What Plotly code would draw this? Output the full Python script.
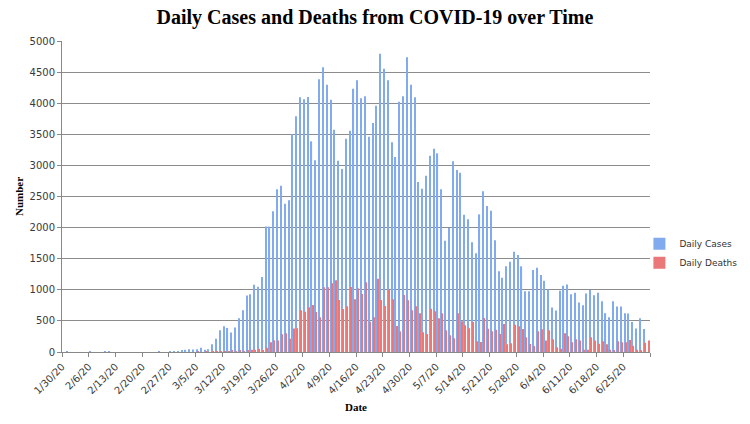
import pandas as pd
import plotly.graph_objects as go

start_date = "2020-01-30"
end_date = "2020-07-01"

cases_jan_feb = [0, 2, 0, 0, 0, 0, 0, 1, 0, 0, 0, 4, 1, 0, 0, 0, 0, 0, 0, 0, 0,
                 0, 0, 0, 0, 4, 0, 0, 6, 3, 4]
cases_mar = [20, 35, 45, 40, 45, 70, 38, 45, 124, 215, 350, 414, 387, 312, 392,
             543, 672, 908, 930, 1080, 1048, 1204, 2016, 2016, 2263, 2618, 2672,
             2382, 2441, 3500, 3789]
cases_apr = [4094, 4062, 4100, 3387, 3081, 4384, 4577, 4298, 4057, 3574, 3076,
             2942, 3430, 3558, 4234, 4368, 4078, 4110, 3462, 3682, 3960, 4796,
             4555, 4368, 3371, 3135, 4025, 4110, 4737, 4298]
cases_may = [4094, 2733, 2626, 2835, 3156, 3269, 3194, 2615, 1790, 1994, 3065,
             2926, 2883, 2208, 2133, 1763, 1586, 2213, 2583, 2347, 2272, 1795,
             1297, 1195, 1377, 1452, 1613, 1559, 1377, 975, 975]
cases_jun_jul = [1317, 1355, 1237, 1145, 1005, 715, 667, 984, 1064, 1086, 930,
                 952, 796, 753, 941, 995, 914, 952, 817, 624, 559, 817, 731, 731,
                 624, 618, 484, 376, 543, 371, 0]

deaths_jan_feb = [0, 0, 0, 0, 0, 0, 0, 0, 0, 0, 0, 0, 0, 0, 0, 0, 0, 0, 0, 0, 0,
                  0, 0, 0, 0, 0, 0, 0, 0, 0, 0]
deaths_mar = [0, 0, 0, 0, 1, 0, 1, 0, 1, 1, 3, 2, 1, 20, 5, 27, 10, 20, 38, 38,
              54, 27, 70, 156, 188, 183, 285, 301, 215, 376, 380]
deaths_apr = [670, 648, 718, 756, 643, 557, 1040, 1040, 1104, 1152, 836, 691,
              734, 1045, 847, 1024, 932, 1120, 488, 557, 1179, 836, 740, 1002,
              847, 418, 332, 916, 831, 670]
deaths_may = [734, 622, 316, 289, 697, 654, 541, 622, 348, 268, 220, 622, 493,
              429, 380, 482, 171, 161, 547, 375, 332, 359, 289, 450, 123, 139,
              439, 413, 370, 236, 129]
deaths_jun_jul = [97, 333, 366, 183, 349, 204, 75, 54, 301, 253, 156, 204, 183,
                  38, 38, 237, 183, 134, 172, 124, 38, 27, 172, 156, 156, 194,
                  102, 38, 32, 150, 183]

tick_labels_start = "2020-01-30"
tick_labels_end = "2020-06-25"
axis_end = "2020-07-02"

dates = pd.date_range(start_date, end_date, freq="D")
daily_cases = cases_jan_feb + cases_mar + cases_apr + cases_may + cases_jun_jul
daily_deaths = deaths_jan_feb + deaths_mar + deaths_apr + deaths_may + deaths_jun_jul
label_dates = pd.date_range(tick_labels_start, tick_labels_end, freq="7D")

serif = "Liberation Serif"
sans = "DejaVu Sans"

fig = go.Figure()
fig.add_trace(go.Bar(
    x=dates, y=daily_cases, name="Daily Cases",
    marker=dict(color="#82aaee", line=dict(width=0)),
    xperiod=86400000, xperiodalignment="middle",
))
fig.add_trace(go.Bar(
    x=dates, y=daily_deaths, name="Daily Deaths",
    marker=dict(color="#ea7878", line=dict(width=0)),
    xperiod=86400000, xperiodalignment="middle",
))

fig.update_layout(
    width=750, height=424,
    margin=dict(l=62, r=100, t=41, b=72, pad=0, autoexpand=False),
    paper_bgcolor="white", plot_bgcolor="white",
    barmode="group", bargap=0.4, bargroupgap=0.0,
    title=dict(text="<b>Daily Cases and Deaths from COVID-19 over Time</b>",
               x=0.5, xanchor="center", y=0.96, yanchor="middle",
               font=dict(family=serif, size=20, color="black")),
    legend=dict(x=0.982, y=0.395, xanchor="left", yanchor="top",
                font=dict(family=sans, size=9, color="#333333"),
                bgcolor="rgba(0,0,0,0)", itemwidth=30, tracegroupgap=4),
    showlegend=True,
)

fig.update_xaxes(
    type="date",
    range=[start_date, axis_end],
    tickmode="array",
    tickvals=label_dates,
    ticktext=[d.strftime("%-m/%-d/%y") for d in label_dates],
    tickangle=-45,
    ticks="outside", ticklen=4, tickcolor="#888888",
    minor=dict(ticks="outside", ticklen=4, tickcolor="#888888",
               tick0=start_date, dtick=7 * 86400000, showgrid=False),
    showline=True, linecolor="#888888", linewidth=1,
    showgrid=False, zeroline=False,
    tickfont=dict(family=sans, size=10, color="#3a3a3a"),
    title=dict(text="<b>Date</b>", font=dict(family=serif, size=11, color="black"),
               standoff=8),
)
fig.update_yaxes(
    range=[0, 5000], dtick=500,
    ticks="outside", ticklen=4, tickcolor="#888888",
    showline=True, linecolor="#888888", linewidth=1,
    showgrid=True, gridcolor="#8c8c8c", gridwidth=1.3,
    zeroline=False,
    tickfont=dict(family=sans, size=10, color="#3a3a3a"),
    title=dict(text="<b>Number</b>", font=dict(family=serif, size=11, color="black"),
               standoff=3),
)

fig.write_html("out.html")
